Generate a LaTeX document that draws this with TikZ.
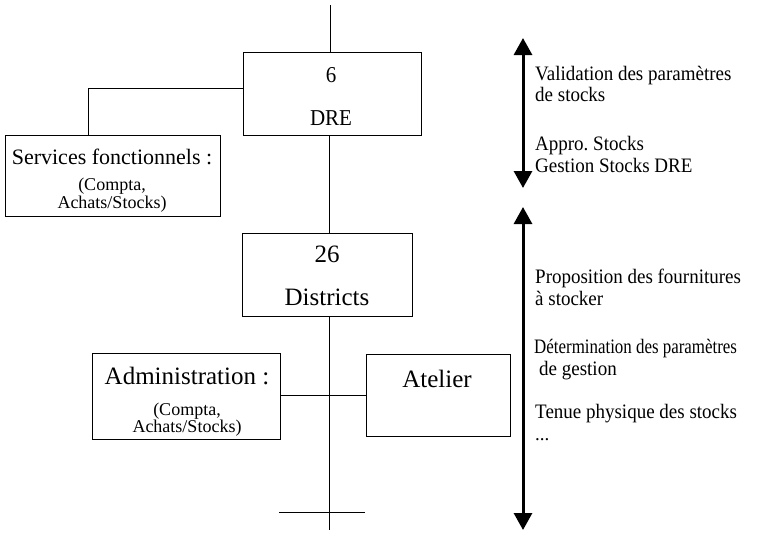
\documentclass[tikz,border=0pt]{standalone}
\usepackage{fontspec}
\setmainfont{Liberation Serif}
\usetikzlibrary{arrows.meta}
\newcommand{\vstretch}[1]{\scalebox{1}[1.08]{#1}}
\begin{document}
\begin{tikzpicture}[x=1pt,y=-1pt,
  boxnode/.style={draw,line width=1pt,rectangle,inner sep=0pt,anchor=north west},
  txt/.style={inner sep=0pt,anchor=base},
  side/.style={inner sep=0pt,anchor=base west,font=\fontsize{19}{22}\selectfont},
  conn/.style={line width=0.9pt},
  bigarrow/.style={line width=3pt,{Triangle[width=18pt,length=17pt]}-{Triangle[width=18pt,length=17pt]}}]
\useasboundingbox (0,0) rectangle (772,539);
\fill[white] (0,0) rectangle (772,539);

% boxes
\node[boxnode,minimum width=178pt,minimum height=83pt] (dre) at (243,52) {};
\node[boxnode,minimum width=215pt,minimum height=81pt] (serv) at (5,135) {};
\node[boxnode,minimum width=170pt,minimum height=83pt] (dist) at (242,233) {};
\node[boxnode,minimum width=188pt,minimum height=86pt] (adm) at (92,353) {};
\node[boxnode,minimum width=144pt,minimum height=82pt] (atel) at (366,354) {};

% box texts
\node[txt,font=\fontsize{21}{24}\selectfont] (t6) at (331,82) {\vstretch{6}};
\node[txt,font=\fontsize{21}{24}\selectfont] (tdre) at (331,125) {\vstretch{DRE}};
\node[txt,font=\fontsize{22}{24}\selectfont] (tserv) at (112,164) {Services fonctionnels :};
\node[txt,font=\fontsize{18}{20}\selectfont] (tserv2) at (112,190) {(Compta,};
\node[txt,font=\fontsize{18}{20}\selectfont] (tserv3) at (112,208) {Achats/Stocks)};
\node[txt,font=\fontsize{25}{28}\selectfont] (t26) at (327,262) {26};
\node[txt,font=\fontsize{25}{28}\selectfont] (tdist) at (327,305) {Districts};
\node[txt,font=\fontsize{25}{28}\selectfont] (tadm) at (187,384) {Administration :};
\node[txt,font=\fontsize{18}{20}\selectfont] (tadm2) at (187,415) {(Compta,};
\node[txt,font=\fontsize{18}{20}\selectfont] (tadm3) at (187,432) {Achats/Stocks)};
\node[txt,font=\fontsize{25}{28}\selectfont] (tatel) at (437,387) {Atelier};

% connectors
\coordinate (top) at (330,5);
\coordinate (mid) at (329,300);
\coordinate (bend) at (88,88);
\coordinate (junc) at (329,395);
\coordinate (bottom) at (329,530);
\coordinate (crossL) at (279,512);
\coordinate (crossR) at (365,512);
\draw[conn] (top) -- (top |- dre.north);
\draw[conn] (dre.south -| mid) -- (dist.north -| mid);
\draw[conn] (serv.north -| bend) -- (bend) -- (bend -| dre.west);
\draw[conn] (dist.south -| junc) -- (bottom);
\draw[conn] (adm.east |- junc) -- (atel.west |- junc);
\draw[conn] (crossL) -- (crossR);

% side arrows
\coordinate (a1t) at (523,38);
\coordinate (a1b) at (523,188);
\coordinate (a2t) at (523,207);
\coordinate (a2b) at (523,530);
\draw[bigarrow] (a1t) -- (a1b);
\draw[bigarrow] (a2t) -- (a2b);

% side texts
\node[side] (s1) at (535,80) {\vstretch{Validation des paramètres}};
\node[side] (s2) at (535,101) {\vstretch{de stocks}};
\node[side] (s3) at (535,150) {\vstretch{Appro.\ Stocks}};
\node[side] (s4) at (535,172) {\vstretch{Gestion Stocks DRE}};
\node[side] (s5) at (535,283) {\vstretch{Proposition des fournitures}};
\node[side] (s6) at (535,305) {\vstretch{à stocker}};
\node[side] (s7) at (534,353) {\scalebox{0.89}[1.08]{Détermination des paramètres}};
\node[side] (s8) at (539,375) {\vstretch{de gestion}};
\node[side] (s9) at (535,418) {\vstretch{Tenue physique des stocks}};
\node[side] (s10) at (535,440) {...};
\end{tikzpicture}
\end{document}
